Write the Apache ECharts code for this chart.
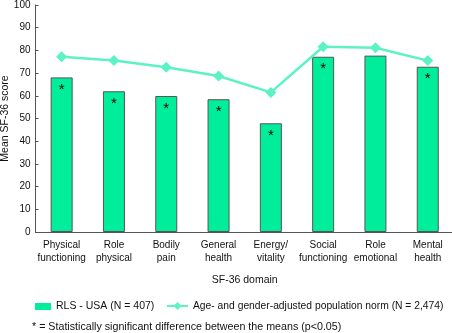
<!DOCTYPE html>
<html><head><meta charset="utf-8">
<script src="https://cdn.jsdelivr.net/npm/echarts@6/dist/echarts.min.js"></script>
<style>html,body{margin:0;padding:0;background:#fff}#c{width:452px;height:333px}</style>
</head><body><div id="c"></div>
<script>
const categories = ['Physical\nfunctioning','Role\nphysical','Bodily\npain','General\nhealth','Energy/\nvitality','Social\nfunctioning','Role\nemotional','Mental\nhealth'];
const rlsValues = [68.1, 62.0, 59.9, 58.5, 47.9, 77.2, 77.7, 72.8];
const normValues = [77.2, 75.6, 72.6, 68.7, 61.5, 81.6, 81.2, 75.5];
const significant = [true, true, true, true, true, true, false, true];
const yTicks = [0,10,20,30,40,50,60,70,80,90,100];
const rlsName = 'RLS - USA (N = 407)';
const normName = 'Age- and gender-adjusted population norm (N = 2,474)';
const footnote = '* = Statistically significant difference between the means (p<0.05)';

const font = 'Liberation Sans, Arial, sans-serif';
const fs = 10;
const fs2 = 10.5;
const chart = echarts.init(document.getElementById('c'));
chart.setOption({
  animation: false,
  textStyle: {fontFamily: font},
  grid: {left: 35.5, width: 418.4, top: 5, bottom: 101, containLabel: false, outerBoundsMode: 'none'},
  title: {text: footnote, left: 32, top: 322, padding: 0, textStyle: {fontFamily: font, fontSize: 10.7, fontWeight: 'normal', color: '#111'}},
  legend: [
    {data: [{name: rlsName, icon: 'rect', itemStyle: {borderWidth: 0}}], left: 35, top: 301, padding: 0, itemWidth: 16, itemHeight: 7, itemGap: 4,
     textStyle: {fontFamily: font, fontSize: fs2, color: '#111'}},
    {data: [normName], left: 166, top: 301, padding: 0, itemWidth: 21, itemHeight: 10,
     textStyle: {fontFamily: font, fontSize: 10.3, color: '#111'}}
  ],
  xAxis: {
    type: 'category', data: categories,
    name: 'SF-36 domain', nameLocation: 'middle', nameGap: 43,
    nameTextStyle: {fontFamily: font, fontSize: fs2, color: '#111'},
    axisLine: {lineStyle: {color: '#555', width: 1}},
    axisTick: {show: false},
    axisLabel: {fontFamily: font, fontSize: fs, color: '#111', lineHeight: 12.5, margin: 7, interval: 0}
  },
  yAxis: {
    type: 'value', min: yTicks[0], max: yTicks[yTicks.length-1], interval: 10,
    name: 'Mean SF-36 score', nameLocation: 'middle', nameGap: 25, nameMoveOverlap: false,
    nameTextStyle: {fontFamily: font, fontSize: fs2, color: '#111'},
    axisLine: {show: true, lineStyle: {color: '#555', width: 1}},
    axisTick: {show: true, inside: true, length: 3, lineStyle: {color: '#555'}},
    splitLine: {show: false},
    axisLabel: {fontFamily: font, fontSize: fs, color: '#111', margin: 5}
  },
  series: [
    {
      name: rlsName, type: 'bar', barWidth: 22,
      data: rlsValues.map((v, i) => ({value: v, label: {show: significant[i]}})),
      itemStyle: {color: '#00ee9c', borderColor: '#555', borderWidth: 1},
      label: {position: 'insideTop', formatter: '*', distance: 5, fontSize: 15, color: '#000', fontFamily: font},
      z: 2
    },
    {
      name: normName, type: 'line', data: normValues,
      symbol: 'diamond', symbolSize: 11,
      lineStyle: {color: '#5cf2c4', width: 2.5},
      itemStyle: {color: '#5cf2c4'},
      z: 3
    }
  ]
});
</script></body></html>
